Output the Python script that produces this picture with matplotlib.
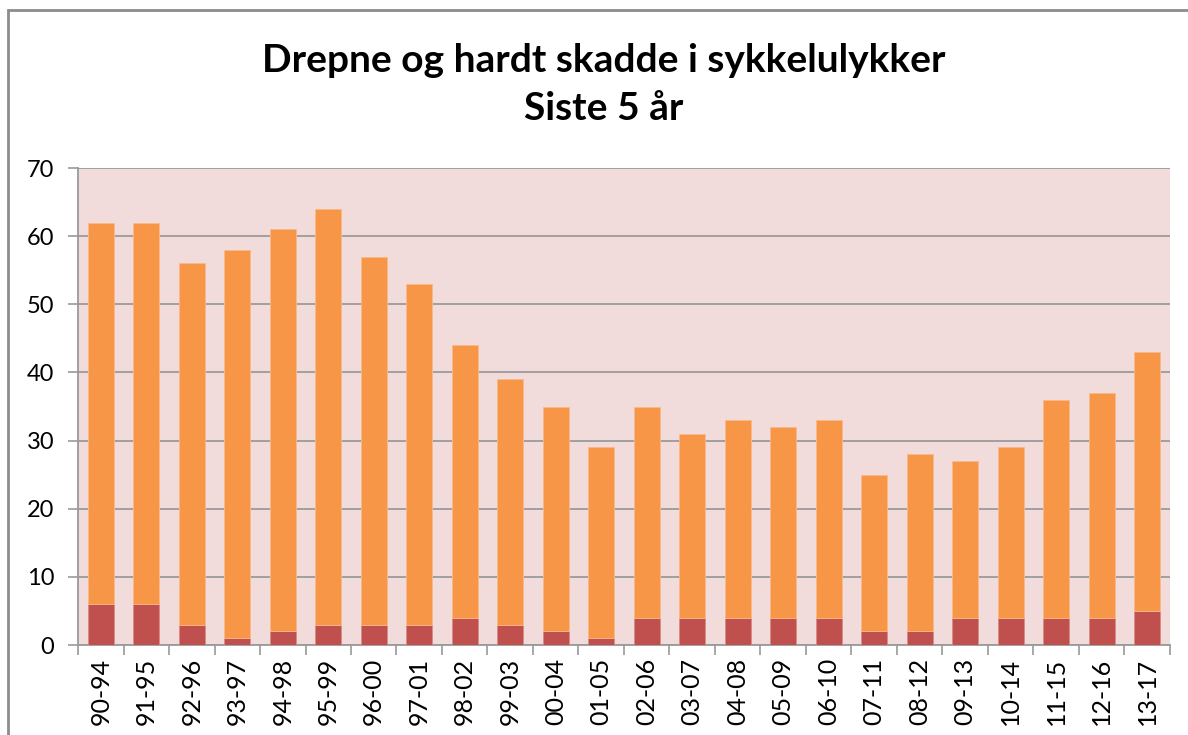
import numpy as np
import matplotlib
matplotlib.use("Agg")
import matplotlib.pyplot as plt
from matplotlib.patches import Rectangle

# =========================
# Data
# =========================
periods = ["90-94", "91-95", "92-96", "93-97", "94-98", "95-99", "96-00", "97-01",
           "98-02", "99-03", "00-04", "01-05", "02-06", "03-07", "04-08", "05-09",
           "06-10", "07-11", "08-12", "09-13", "10-14", "11-15", "12-16", "13-17"]
totals = [62, 62, 56, 58, 61, 64, 57, 53, 44, 39, 35, 29, 35, 31, 33, 32, 33, 25,
          28, 27, 29, 36, 37, 43]
killed = [6, 6, 3, 1, 2, 3, 3, 3, 4, 3, 2, 1, 4, 4, 4, 4, 4, 2, 2, 4, 4, 4, 4, 5]
injured = [t - k for t, k in zip(totals, killed)]

# =========================
# Figure
# =========================
plt.rcParams['font.family'] = ['Lato', 'DejaVu Sans']

fig = plt.figure(figsize=(11.88, 7.35), dpi=100)
ax = fig.add_axes([0.0657, 0.1224, 0.919, 0.649])

# chart frame (only top and left edges visible)
W, H = 1188, 735
fig.patches.append(Rectangle((8 / W, -0.05), 1.1, (H - 10) / H + 0.05,
                             transform=fig.transFigure, fill=False,
                             edgecolor="#8c8c8c", linewidth=2))

x = np.arange(len(periods))
ax.bar(x, killed, width=0.57, color="#C0504D", edgecolor="#d98a88", linewidth=0.6, zorder=3)
ax.bar(x, injured, width=0.57, bottom=killed, color="#F79646",
       edgecolor="#fbb98a", linewidth=0.6, zorder=3)

ax.set_facecolor("#F2DCDB")
ax.set_xlim(-0.5, len(periods) - 0.5)
ax.set_ylim(0, 70)
ax.set_yticks(range(0, 71, 10))
ax.yaxis.grid(True, color="#9a9a9a", linewidth=1.3, zorder=0)
ax.set_axisbelow(True)

# ticks between categories
ax.set_xticks(np.arange(-0.5, len(periods), 1.0))
ax.set_xticklabels([])
ax.set_xticks(x, minor=True)
ax.set_xticklabels(periods, minor=True, rotation=90, fontsize=18)
ax.tick_params(axis="x", which="minor", length=0, pad=9)
ax.tick_params(axis="x", which="major", length=7, color="#9a9a9a", width=1.2)
ax.tick_params(axis="y", length=7, color="#9a9a9a", width=1.2, labelsize=17, pad=10)

for s in ["top", "right"]:
    ax.spines[s].set_visible(False)
for s in ["left", "bottom"]:
    ax.spines[s].set_color("#9a9a9a")
    ax.spines[s].set_linewidth(1.3)

fig.text(0.508, 0.918, "Drepne og hardt skadde i sykkelulykker", ha="center", va="center",
         fontsize=28, fontweight="bold")
fig.text(0.508, 0.853, "Siste 5 år", ha="center", va="center",
         fontsize=28, fontweight="bold")

fig.savefig("out.png", dpi=100)
